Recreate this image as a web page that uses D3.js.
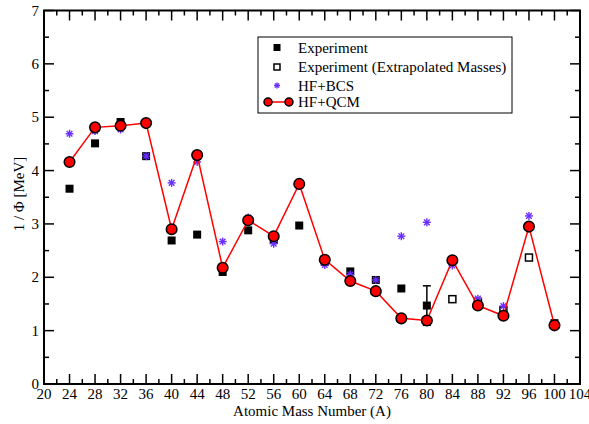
<!DOCTYPE html>
<html>
<head>
<meta charset="utf-8">
<script src="https://cdn.jsdelivr.net/npm/d3@7"></script>
<style>
  body { margin: 0; background: #fff; }
  svg { display: block; font-family: "Liberation Serif", "DejaVu Serif", serif; }
</style>
</head>
<body>
<svg id="chart" width="589" height="424"></svg>
<script>
// mass numbers and series values
const qcmA = [24, 28, 32, 36, 40, 44, 48, 52, 56, 60, 64, 68, 72, 76, 80, 84, 88, 92, 96, 100];
const qcmV = [4.16, 4.81, 4.84, 4.89, 2.90, 4.29, 2.18, 3.07, 2.77, 3.75, 2.33, 1.93, 1.74, 1.23, 1.19, 2.32, 1.47, 1.28, 2.95, 1.10];

const bcsA = [24, 28, 32, 36, 40, 44, 48, 52, 56, 60, 64, 68, 72, 76, 80, 84, 88, 92, 96, 100];
const bcsV = [4.69, 4.74, 4.77, 4.27, 3.77, 4.16, 2.67, 3.12, 2.63, 3.74, 2.23, 2.05, 1.95, 2.77, 3.03, 2.22, 1.60, 1.46, 3.15, 1.06];

const expA = [24, 28, 32, 36, 40, 44, 48, 52, 56, 60, 64, 68, 72, 76, 80, 100];
const expV = [3.66, 4.51, 4.91, 4.27, 2.69, 2.80, 2.10, 2.88, 2.70, 2.97, 2.29, 2.11, 1.95, 1.79, 1.47, 1.14];

const extA = [84, 88, 92, 96];
const extV = [1.59, 1.54, 1.38, 2.37];

// error bar on the A = 80 experimental point
const errA = 80, errLo = 1.10, errHi = 1.84;

const xTicks = d3.range(20, 105, 4);
const yTicks = d3.range(0, 8, 1);
const legendItems = ["Experiment", "Experiment (Extrapolated Masses)", "HF+BCS", "HF+QCM"];

const svg = d3.select("#chart");
const pl = 44, pr = 580, pt = 10.5, pb = 384;
const fs = 15;

const x = d3.scaleLinear().domain([20, 104]).range([pl, pr]);
const y = d3.scaleLinear().domain([0, 7]).range([pb, pt]);

const blue = "#6a2eff";

// ticks on all four sides, pointing inward
const xMinor = d3.range(20, 105, 2).filter(v => v % 4 !== 0);
const yMinor = d3.range(0.5, 7, 1);
const tk = svg.append("g").attr("stroke", "#000").attr("stroke-width", 1.5);
xTicks.forEach(v => {
  tk.append("line").attr("x1", x(v)).attr("x2", x(v)).attr("y1", pb).attr("y2", pb - 10);
  tk.append("line").attr("x1", x(v)).attr("x2", x(v)).attr("y1", pt).attr("y2", pt + 10);
});
xMinor.forEach(v => {
  tk.append("line").attr("x1", x(v)).attr("x2", x(v)).attr("y1", pb).attr("y2", pb - 5);
  tk.append("line").attr("x1", x(v)).attr("x2", x(v)).attr("y1", pt).attr("y2", pt + 5);
});
yTicks.forEach(v => {
  tk.append("line").attr("x1", pl).attr("x2", pl + 10).attr("y1", y(v)).attr("y2", y(v));
  tk.append("line").attr("x1", pr).attr("x2", pr - 10).attr("y1", y(v)).attr("y2", y(v));
});
yMinor.forEach(v => {
  tk.append("line").attr("x1", pl).attr("x2", pl + 5).attr("y1", y(v)).attr("y2", y(v));
  tk.append("line").attr("x1", pr).attr("x2", pr - 5).attr("y1", y(v)).attr("y2", y(v));
});

svg.append("rect")
  .attr("x", pl).attr("y", pt)
  .attr("width", pr - pl).attr("height", pb - pt)
  .attr("fill", "none").attr("stroke", "#000").attr("stroke-width", 2);

// tick labels
svg.append("g").selectAll("text").data(xTicks).join("text")
  .attr("x", d => x(d)).attr("y", pb + 15)
  .attr("text-anchor", "middle").attr("font-size", fs)
  .text(d => d);
svg.append("g").selectAll("text").data(yTicks).join("text")
  .attr("x", pl - 5).attr("y", d => y(d) + 5)
  .attr("text-anchor", "end").attr("font-size", fs)
  .text(d => d);

svg.append("text")
  .attr("x", (pl + pr) / 2).attr("y", 416)
  .attr("text-anchor", "middle").attr("font-size", fs)
  .text("Atomic Mass Number (A)");
svg.append("text")
  .attr("transform", "translate(24,194) rotate(-90)")
  .attr("text-anchor", "middle").attr("font-size", fs)
  .text("1 / Φ [MeV]");

// error bar
const eb = svg.append("g").attr("stroke", "#000").attr("stroke-width", 1.5);
eb.append("line").attr("x1", x(errA)).attr("x2", x(errA)).attr("y1", y(errLo)).attr("y2", y(errHi));
eb.append("line").attr("x1", x(errA) - 4).attr("x2", x(errA) + 4).attr("y1", y(errHi)).attr("y2", y(errHi));
eb.append("line").attr("x1", x(errA) - 4).attr("x2", x(errA) + 4).attr("y1", y(errLo)).attr("y2", y(errLo));

// experiment, filled squares
svg.append("g").selectAll("rect").data(expA).join("rect")
  .attr("x", d => x(d) - 4).attr("y", (d, i) => y(expV[i]) - 4)
  .attr("width", 8).attr("height", 8).attr("fill", "#000");

// extrapolated, open squares
svg.append("g").selectAll("rect").data(extA).join("rect")
  .attr("x", d => x(d) - 3.5).attr("y", (d, i) => y(extV[i]) - 3.5)
  .attr("width", 7).attr("height", 7)
  .attr("fill", "#fff").attr("stroke", "#000").attr("stroke-width", 1.5);

function asterisk(g, cx, cy, r) {
  const a = g.append("g").attr("stroke", blue).attr("stroke-width", 1.4);
  [0, 45, 90, 135].forEach(deg => {
    const t = deg * Math.PI / 180;
    a.append("line")
      .attr("x1", cx - r * Math.cos(t)).attr("y1", cy - r * Math.sin(t))
      .attr("x2", cx + r * Math.cos(t)).attr("y2", cy + r * Math.sin(t));
  });
}

// HF+BCS, asterisks
const bcsG = svg.append("g");
bcsA.forEach((a, i) => asterisk(bcsG, x(a), y(bcsV[i]), 4));

// HF+QCM, line and circles
const line = d3.line().x(d => x(d[0])).y(d => y(d[1]));
svg.append("path")
  .datum(qcmA.map((a, i) => [a, qcmV[i]]))
  .attr("d", line).attr("fill", "none")
  .attr("stroke", "#ff0000").attr("stroke-width", 1.5);
svg.append("g").selectAll("circle").data(qcmA).join("circle")
  .attr("cx", d => x(d)).attr("cy", (d, i) => y(qcmV[i]))
  .attr("r", 5.3).attr("fill", "#ff0000")
  .attr("stroke", "#000").attr("stroke-width", 1.5);

// legend
const lg = svg.append("g");
lg.append("rect").attr("x", 258).attr("y", 37).attr("width", 254).attr("height", 76)
  .attr("fill", "#fff").attr("stroke", "#000").attr("stroke-width", 1);
const rowY = [47.5, 67, 85.5, 102];
lg.selectAll("text").data(legendItems).join("text")
  .attr("x", 298).attr("y", (d, i) => rowY[i] + 5)
  .attr("font-size", fs).text(d => d);
lg.append("rect").attr("x", 273.5).attr("y", rowY[0] - 3.5).attr("width", 7).attr("height", 7).attr("fill", "#000");
lg.append("rect").attr("x", 274).attr("y", rowY[1] - 3).attr("width", 6).attr("height", 6)
  .attr("fill", "#fff").attr("stroke", "#000").attr("stroke-width", 1.5);
asterisk(lg, 277, rowY[2], 3);
lg.append("line").attr("x1", 268).attr("x2", 289).attr("y1", rowY[3]).attr("y2", rowY[3])
  .attr("stroke", "#ff0000").attr("stroke-width", 1.5);
[268, 289].forEach(cx => lg.append("circle").attr("cx", cx).attr("cy", rowY[3]).attr("r", 4)
  .attr("fill", "#ff0000").attr("stroke", "#000").attr("stroke-width", 1.5));
</script>
</body>
</html>
